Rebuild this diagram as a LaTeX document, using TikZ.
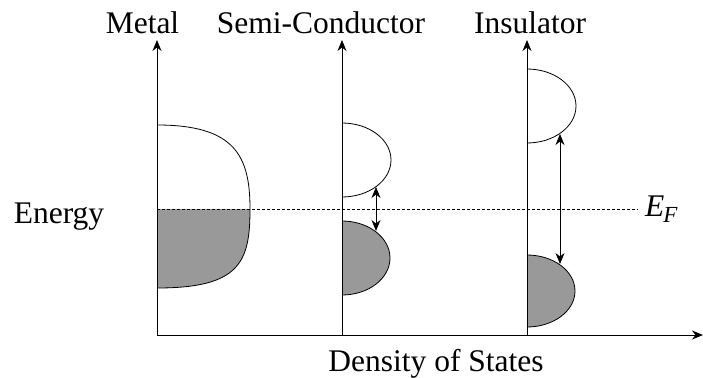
\documentclass[tikz,border=0pt]{standalone}
\usepackage{fontspec}
\setmainfont{Liberation Serif}
\usetikzlibrary{arrows.meta}
\definecolor{bandgray}{RGB}{153,153,153}
\begin{document}
\begin{tikzpicture}[x=1pt,y=-1pt,
  axis/.style={line width=0.9pt,-{Stealth[length=11pt,width=9pt,inset=3.5pt]}},
  bandline/.style={line width=0.8pt},
  gaparrow/.style={line width=0.8pt,{Stealth[length=11pt,width=9pt,inset=3.5pt]}-{Stealth[length=11pt,width=9pt,inset=3.5pt]}},
  fermi/.style={line width=0.7pt,dash pattern=on 3pt off 2pt},
  lbl/.style={font=\fontsize{31.5}{36}\selectfont,inner sep=0pt,anchor=base}]
\useasboundingbox (0,0) rectangle (703,377);
% fills
\fill[bandgray] (157,209) -- (250,209) .. controls (250,262) and (240,288) .. (157,288) -- cycle;
\fill[bandgray] (342,221) arc[start angle=-90,end angle=90,x radius=48,y radius=37] -- cycle;
\fill[bandgray] (527,255) arc[start angle=-90,end angle=90,x radius=48,y radius=36] -- cycle;
% metal band
\draw[bandline] (157,125) .. controls (235,125) and (250,156) .. (250,209) .. controls (250,262) and (240,288) .. (157,288);
% semiconductor bands
\draw[bandline] (342,123) arc[start angle=-90,end angle=90,x radius=49,y radius=37];
\draw[bandline] (342,221) arc[start angle=-90,end angle=90,x radius=48,y radius=37];
% insulator bands
\draw[bandline] (527,69) arc[start angle=-90,end angle=90,x radius=49,y radius=37];
\draw[bandline] (527,255) arc[start angle=-90,end angle=90,x radius=48,y radius=36];
% Fermi level
\coordinate (ef0) at (157,209);
\coordinate (ef1) at (638,209);
\draw[fermi] (ef0) -- (ef1);
% axes
\coordinate (o) at (157,335);
\coordinate (xend) at (703,335);
\coordinate (my) at (157,40);
\coordinate (s0) at (342,335);
\coordinate (sy) at (342,40);
\coordinate (i0) at (527,335);
\coordinate (iy) at (527,40);
\draw[axis] (o) -- (xend);
\draw[axis] (o) -- (my);
\draw[axis] (s0) -- (sy);
\draw[axis] (i0) -- (iy);
% gap arrows
\coordinate (sgt) at (376,187);
\coordinate (sgb) at (376,231);
\coordinate (igt) at (560,134);
\coordinate (igb) at (560,264);
\draw[gaparrow] (sgt) -- (sgb);
\draw[gaparrow] (igt) -- (igb);
% labels
\node[lbl] (metal) at (142.5,34) {Metal};
\node[lbl] (semi) at (321,34) {Semi-Conductor};
\node[lbl] (ins) at (530,34) {Insulator};
\node[lbl] (energy) at (59,223) {Energy};
\node[lbl] (dos) at (436,371) {Density of States};
\node[lbl,anchor=base west] (ef) at (645,216) {\itshape E\kern-1pt\raisebox{-0.22em}{\fontsize{23}{25}\selectfont F}};
\end{tikzpicture}
\end{document}
